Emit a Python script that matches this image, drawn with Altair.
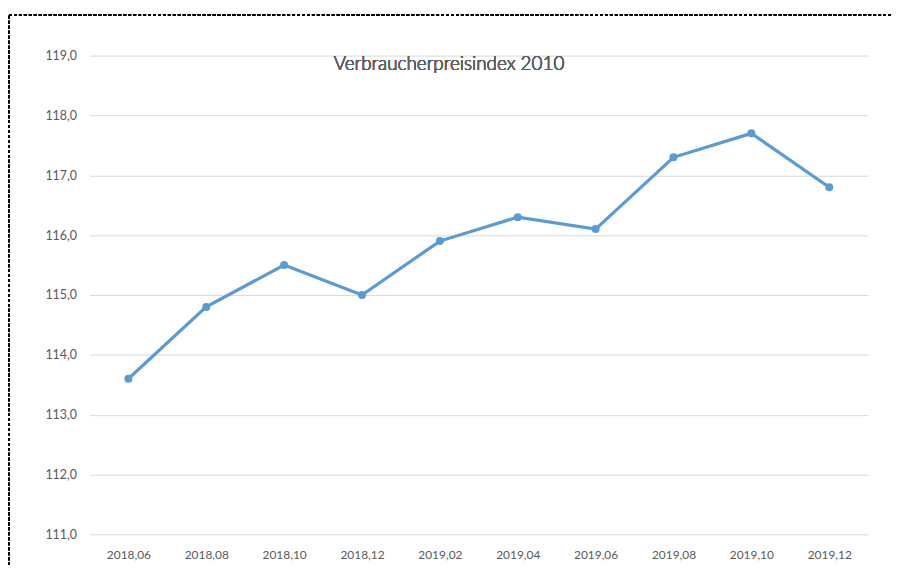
import altair as alt
import pandas as pd

months = ["2018,06", "2018,08", "2018,10", "2018,12", "2019,02",
          "2019,04", "2019,06", "2019,08", "2019,10", "2019,12"]
values = [113.6, 114.8, 115.5, 115.0, 115.9, 116.3, 116.1, 117.3, 117.7, 116.8]
y_ticks = [111, 112, 113, 114, 115, 116, 117, 118, 119]
title_text = "Verbraucherpreisindex 2010"

df = pd.DataFrame({"Monat": months, "Index": values})

FONT = "Lato"
GRAY = "#595959"
BLUE = "#5B9BD5"

x_enc = alt.X("Monat:O", sort=months,
              scale=alt.Scale(type="point", padding=0.5),
              axis=alt.Axis(title=None, labelAngle=0, domain=False, ticks=False,
                            grid=False, labelPadding=15, labelFontSize=12,
                            labelColor=GRAY, labelFont=FONT))
y_enc = alt.Y("Index:Q",
              scale=alt.Scale(domain=[111, 119], nice=False, zero=False),
              axis=alt.Axis(title=None, values=y_ticks, domain=False, ticks=False,
                            grid=True, gridColor="#d9d9d9", gridWidth=1,
                            labelPadding=13, labelFontSize=12.5, labelColor=GRAY,
                            labelFont=FONT,
                            labelExpr="replace(format(datum.value, '.1f'), '.', ',')"))

line = alt.Chart(df).mark_line(color=BLUE, strokeWidth=3.2).encode(x=x_enc, y=y_enc)
pts = alt.Chart(df).mark_point(filled=True, color=BLUE, size=65, opacity=1).encode(
    x=alt.X("Monat:O", sort=months), y="Index:Q")

border = alt.Chart(df).mark_rect(fill="transparent", stroke="black", strokeWidth=1.2,
                                 strokeDash=[3, 2], clip=False).encode(
    x=alt.value(-81), x2=alt.value(900), y=alt.value(-41), y2=alt.value(700))

title = alt.Chart(df).mark_text(font=FONT, fontSize=19, fontWeight=300,
                                color="#5f5f5f", align="center",
                                baseline="middle").encode(
    x=alt.value(362), y=alt.value(9), text=alt.value(title_text))

chart = alt.layer(border, line, pts, title).properties(
    width=784, height=482,
    background="white",
    autosize=alt.AutoSizeParams(type="none"),
    padding={"left": 82, "top": 46, "right": 24, "bottom": 30},
).configure_view(strokeWidth=0)

chart.save("out.html", embed_options={"renderer": "svg", "actions": False})
